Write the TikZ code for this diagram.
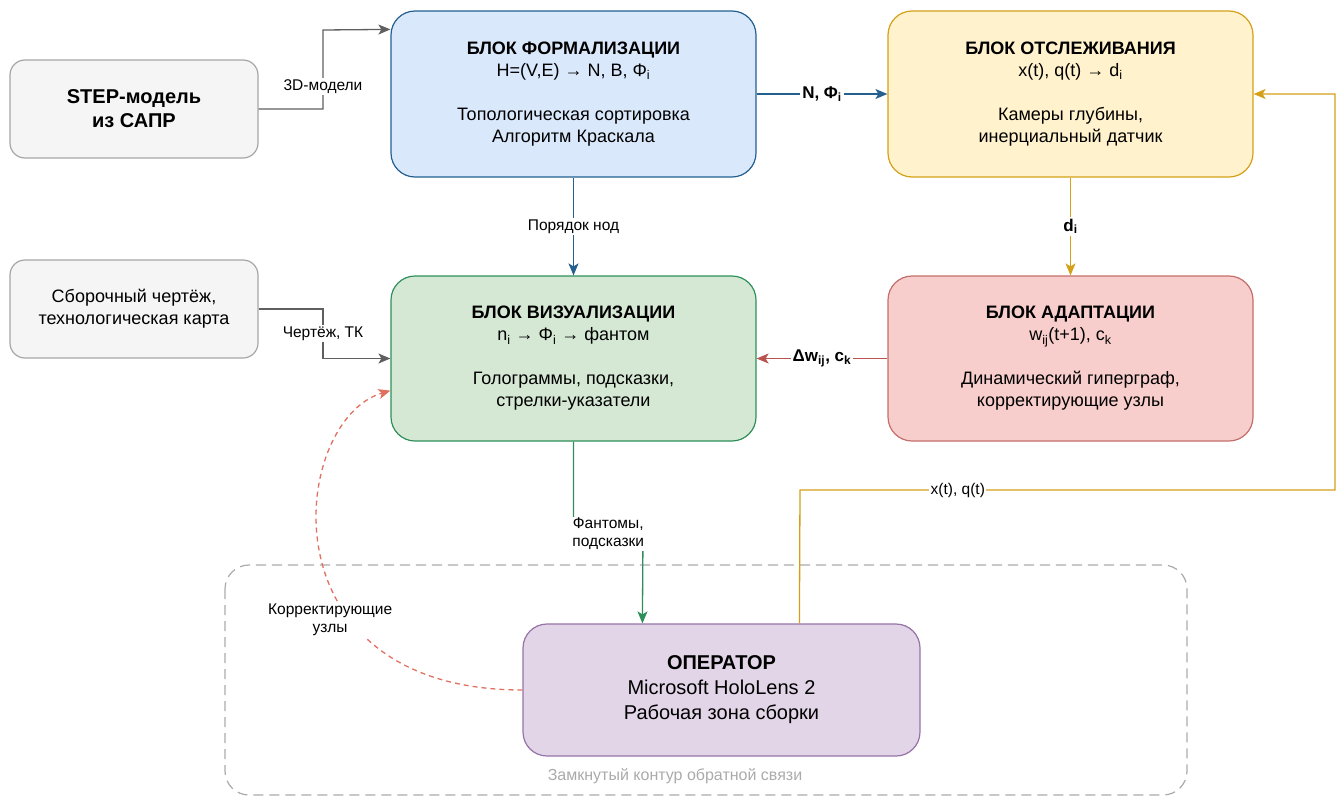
\documentclass[tikz,border=0pt]{standalone}
\usepackage{fontspec}
\setmainfont{Liberation Sans}
\usetikzlibrary{arrows.meta,calc}
\definecolor{cblue}{HTML}{23608F}
\definecolor{cgold}{HTML}{D4A017}
\definecolor{cred}{HTML}{B85450}
\definecolor{cgreen}{HTML}{2F8F5B}
\definecolor{cgray}{HTML}{5F5F5F}
\definecolor{cpurple}{HTML}{9673A6}
\definecolor{cdash}{HTML}{E07060}
\definecolor{cgroup}{HTML}{AAAAAA}
\definecolor{fblue}{HTML}{DAE8FC}
\definecolor{fgold}{HTML}{FFF2CC}
\definecolor{fgreen}{HTML}{D5E8D4}
\definecolor{fred}{HTML}{F8CECC}
\definecolor{fpurple}{HTML}{E1D5E7}
\definecolor{fgray}{HTML}{F5F5F5}
\begin{document}
\begin{tikzpicture}[x=1pt,y=-1pt,
  blk/.style={draw, rounded corners=24pt, line width=1.2pt, align=center,
    font=\fontsize{18}{22}\selectfont, minimum width=365pt, minimum height=166pt, inner sep=0pt},
  sblk/.style={draw=gray!70, fill=fgray, rounded corners=15pt, line width=1.2pt, align=center,
    minimum width=248pt, minimum height=98pt, inner sep=0pt},
  lbl/.style={fill=white, font=\fontsize{15.5}{18}\selectfont, inner sep=1.5pt, align=center, text=black},
  blbl/.style={fill=white, font=\fontsize{17}{20}\selectfont\bfseries, inner sep=2pt, text=black},
  edge/.style={line width=1.3pt, -{Stealth[length=12pt,width=10pt,inset=3pt]}}]
\useasboundingbox (0,0) rectangle (1343,798);

% feedback group
\draw[cgroup, line width=1.2pt, dash pattern=on 10pt off 6pt, rounded corners=24pt] (225,565) rectangle (1187,795);
\node[text=cgroup, font=\fontsize{16}{19}\selectfont] (grouplbl) at (675,776) {Замкнутый контур обратной связи};

% blocks
\node[sblk, font=\fontsize{20}{24}\selectfont\bfseries] (step) at (134,109) {STEP-модель\\из САПР};
\node[sblk, font=\fontsize{18}{22}\selectfont] (drw) at (134,309) {Сборочный чертёж,\\технологическая карта};
\node[blk, draw=cblue, fill=fblue] (formal) at (573.5,94) {\textbf{БЛОК ФОРМАЛИЗАЦИИ}\\H=(V,E) → N, B, Φ\textsubscript{i}\\[22pt]Топологическая сортировка\\Алгоритм Краскала};
\node[blk, draw=cgold, fill=fgold] (track) at (1070.5,94) {\textbf{БЛОК ОТСЛЕЖИВАНИЯ}\\x(t), q(t) → d\textsubscript{i}\\[22pt]Камеры глубины,\\инерциальный датчик};
\node[blk, draw=cgreen, fill=fgreen, minimum height=165pt] (vis) at (573.5,358.5) {\textbf{БЛОК ВИЗУАЛИЗАЦИИ}\\n\textsubscript{i} → Φ\textsubscript{i} → фантом\\[22pt]Голограммы, подсказки,\\стрелки-указатели};
\node[blk, draw=cred!85, fill=fred, minimum height=165pt] (adapt) at (1070.5,358.5) {\textbf{БЛОК АДАПТАЦИИ}\\w\textsubscript{ij}(t+1), c\textsubscript{k}\\[22pt]Динамический гиперграф,\\корректирующие узлы};
\node[blk, draw=cpurple, fill=fpurple, minimum width=397pt, minimum height=132pt, font=\fontsize{20}{25}\selectfont] (oper) at (721.5,690) {\textbf{ОПЕРАТОР}\\Microsoft HoloLens 2\\Рабочая зона сборки};

% connectors
\draw[edge, cgray] (step.east) -- (323,109) -- node[lbl, pos=0.28] {3D-модели} (323,30) -- ($(formal.north west)+(0,19)$);
\draw[edge, cgray] (drw.east) -- (323,309) -- node[lbl, pos=0.5] {Чертёж, ТК} (323,358.5) -- (vis.west);
\draw[edge, cblue] (formal.east) -- node[blbl] {N, Φ\textsubscript{i}} (track.west);
\draw[edge, cblue] (formal.south) -- node[lbl] {Порядок нод} (vis.north);
\draw[edge, cgold] (track.south) -- node[blbl] {d\textsubscript{i}} (adapt.north);
\draw[edge, cred] (adapt.west) -- node[blbl] {Δw\textsubscript{ij}, c\textsubscript{k}} (vis.east);
\draw[edge, cgreen] (vis.south) -- (573.5,534) -- node[lbl] {Фантомы,\\подсказки} (643,534) -- ($(oper.north west)+(120,0)$);
\draw[edge, cgold] ($(oper.north west)+(277,0)$) -- (800,490) -- node[lbl, pos=0.295] {x(t), q(t)} (1335,490) -- (1335,94) -- (track.east);
\draw[edge, cdash, dash pattern=on 5pt off 4pt] (oper.west) .. controls (260,690) and (290,420) .. node[lbl, pos=0.33, xshift=-20pt] {Корректирующие\\узлы} ($(vis.south west)+(0,-51)$);
\end{tikzpicture}
\end{document}
